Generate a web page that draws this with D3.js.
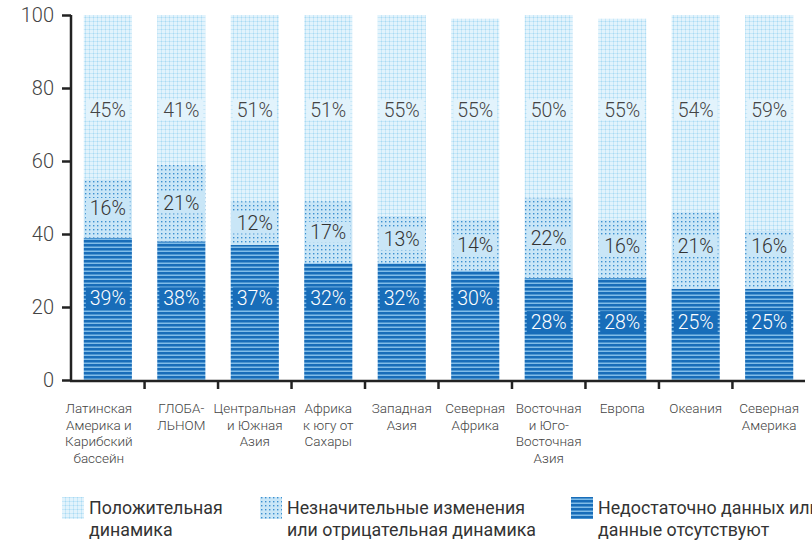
<!DOCTYPE html>
<html><head><meta charset="utf-8">
<script src="https://cdn.jsdelivr.net/npm/d3@7"></script>
<style>body{margin:0;background:#fff;overflow:hidden}svg{font-family:Roboto,"Noto Sans",sans-serif;display:block}</style>
</head><body><svg id="c" width="812" height="540"></svg>
<script>
const categories = [
  ["Латинская","Америка и","Карибский","бассейн"],
  ["ГЛОБА-","ЛЬНОМ"],
  ["Центральная","и Южная","Азия"],
  ["Африка","к югу от","Сахары"],
  ["Западная","Азия"],
  ["Северная","Африка"],
  ["Восточная","и Юго-","Восточная","Азия"],
  ["Европа"],
  ["Океания"],
  ["Северная","Америка"]
];
const insufficient = [39,38,37,32,32,30,28,28,25,25];
const insignificant = [16,21,12,17,13,14,22,16,21,16];
const positive = [45,41,51,51,55,55,50,55,54,59];
const yTicks = [0,20,40,60,80,100];
const legendLabels = [
  ["Положительная","динамика"],
  ["Незначительные изменения","или отрицательная динамика"],
  ["Недостаточно данных или","данные отсутствуют"]
];

const svg = d3.select("#c");
const defs = svg.append("defs");
let p = defs.append("pattern").attr("id","pPos").attr("width",4).attr("height",4).attr("patternUnits","userSpaceOnUse");
p.append("rect").attr("width",4).attr("height",4).attr("fill","#e2f3fc");
p.append("rect").attr("x",0).attr("y",1).attr("width",4).attr("height",1).attr("fill","#c6e7f8");
p.append("rect").attr("x",1).attr("y",0).attr("width",1).attr("height",4).attr("fill","#c6e7f8");
p.append("rect").attr("x",1).attr("y",1).attr("width",1).attr("height",1).attr("fill","#a9daf3");
p = defs.append("pattern").attr("id","pMid").attr("width",4).attr("height",4).attr("patternUnits","userSpaceOnUse");
p.append("rect").attr("width",4).attr("height",4).attr("fill","#c9e6f7");
p.append("rect").attr("x",1).attr("y",1).attr("width",1.4).attr("height",1.4).attr("fill","#3b8fd0");
p = defs.append("pattern").attr("id","pLow").attr("width",4).attr("height",4).attr("patternUnits","userSpaceOnUse");
p.append("rect").attr("width",4).attr("height",4).attr("fill","#186db9");
p.append("rect").attr("x",0).attr("y",2.5).attr("width",4).attr("height",1.5).attr("fill","#80bce8");

const x = d3.scaleBand().domain(d3.range(categories.length)).range([72,805]).paddingInner(0.345).paddingOuter(0.16);
const y = d3.scaleLinear().domain([0,100]).range([380,15]);

const rows = categories.map((c,i)=>({i, low:insufficient[i], mid:insignificant[i], pos:positive[i]}));
const g = svg.append("g");
rows.forEach(r=>{
  const segs = [
    {y0:0, y1:r.low, fill:"url(#pLow)"},
    {y0:r.low, y1:r.low+r.mid, fill:"url(#pMid)"},
    {y0:r.low+r.mid, y1:r.low+r.mid+r.pos, fill:"url(#pPos)"}
  ];
  segs.forEach(s=>{
    g.append("rect").attr("x",x(r.i)).attr("width",x.bandwidth())
      .attr("y",y(s.y1)).attr("height",y(s.y0)-y(s.y1)).attr("fill",s.fill);
  });
});

const ya = svg.append("g").attr("transform","translate(71,0)")
  .call(d3.axisLeft(y).tickValues(yTicks).tickSize(9).tickPadding(8));
ya.select(".domain").attr("stroke","#222").attr("stroke-width",2.5).attr("d","M0,15V380");
ya.selectAll(".tick line").attr("stroke","#222").attr("stroke-width",2.5);
ya.selectAll(".tick text").attr("font-size",20).attr("font-weight",300).attr("fill","#444").attr("font-family","Roboto");

const xa = svg.append("g").attr("transform","translate(0,381)");
xa.append("line").attr("x1",70).attr("x2",805).attr("stroke","#222").attr("stroke-width",2.5);
d3.range(1,categories.length).forEach(i=>{
  const tx = x(i) - x.step()*x.paddingInner()/2;
  xa.append("line").attr("x1",tx).attr("x2",tx).attr("y1",0).attr("y2",8).attr("stroke","#222").attr("stroke-width",2.5);
});
categories.forEach((lines,i)=>{
  const cx = x(i)+x.bandwidth()/2 + (i===0 ? -9 : 0);
  const t = xa.append("text").attr("text-anchor","middle").attr("font-size",13.5).attr("font-weight",300).attr("fill","#444")
    .attr("transform",`translate(${cx},0)`);
  lines.forEach((l,j)=>t.append("tspan").attr("x",0).attr("y",32+j*16.5).text(l));
});

function label(cx, val, txt, bg, color){
  const cy = y(val);
  const w = 44, h = 21;
  svg.append("rect").attr("x",cx-w/2).attr("y",cy-h/2).attr("width",w).attr("height",h).attr("fill",bg);
  svg.append("text").attr("x",cx).attr("y",cy).attr("dy","0.36em").attr("text-anchor","middle")
    .attr("font-size",19.5).attr("font-weight",300).attr("fill",color).text(txt);
}
rows.forEach(r=>{
  const cx = x(r.i)+x.bandwidth()/2;
  label(cx, 74, r.pos+"%", "#e2f3fc", "#444");
  label(cx, Math.max(r.low+r.mid/2, 36.6), r.mid+"%", "#c9e6f7", "#333");
  label(cx, r.low>=30 ? 22.5 : 16, r.low+"%", "#186db9", "#fff");
});

const lg = svg.append("g");
const lx = [62,260,571], fills = ["url(#pPos)","url(#pMid)","url(#pLow)"];
legendLabels.forEach((ls,i)=>{
  lg.append("rect").attr("x",lx[i]).attr("y",497).attr("width",22).attr("height",22).attr("fill",fills[i]);
  const t = lg.append("text").attr("font-size",17.8).attr("fill","#333").attr("font-family","Roboto");
  ls.forEach((l,j)=>t.append("tspan").attr("x",lx[i]+27).attr("y",514+j*22).text(l));
});
</script></body></html>
